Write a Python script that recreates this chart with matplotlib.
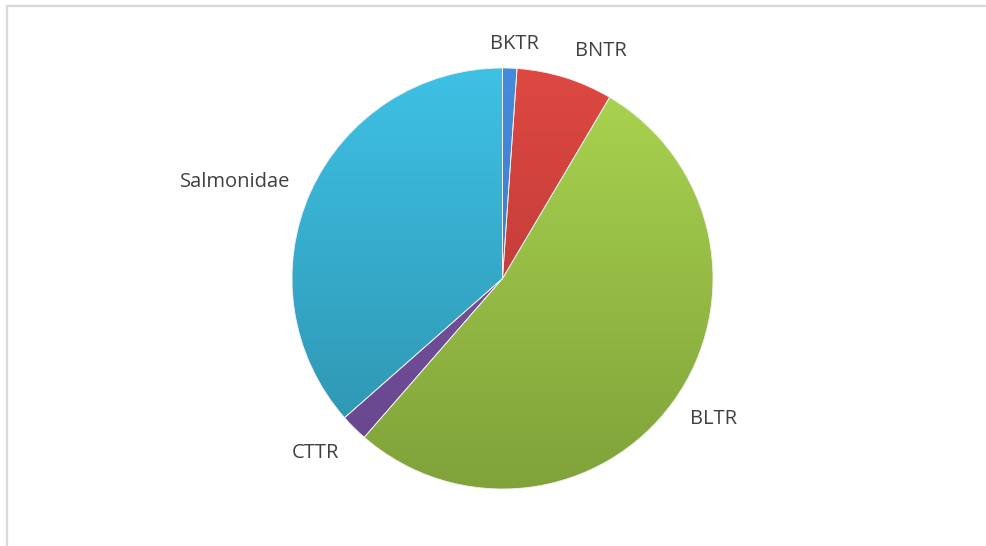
import numpy as np
import matplotlib
matplotlib.use('Agg')
import matplotlib.pyplot as plt
from matplotlib.colors import LinearSegmentedColormap

#data (percent of total)
species = ['BKTR', 'BNTR', 'BLTR', 'CTTR', 'Salmonidae']
shares = [1.1, 7.4, 52.9, 2.1, 36.5]

#gradient colours, top (light) to bottom (dark)
top_colors = ['#458bdc', '#de4842', '#abd550', '#7d58a8', '#3ec1e5']
bottom_colors = ['#3a73b8', '#ad3431', '#80a23a', '#66468c', '#2d90ab']

W, H = 987, 546
cx, cy, R = 502.5, 278.5, 210.5

fig = plt.figure(figsize=(W / 100, H / 100), dpi=100)
ax = fig.add_axes([0, 0, 1, 1])

wedges, texts = ax.pie(shares, labels=species, startangle=90, counterclock=False,
                       radius=1, center=(0, 0), frame=True,
                       wedgeprops=dict(edgecolor='#f0f0f0', linewidth=0.6),
                       textprops=dict(fontsize=14.5, color='#404040', family='Open Sans'))
ax.set_xlim(-cx / R, (W - cx) / R)
ax.set_ylim(-(H - cy) / R, cy / R)
ax.set_aspect('auto')
ax.axis('off')

grad = np.linspace(0, 1, 256).reshape(-1, 1)
for w, c1, c2 in zip(wedges, top_colors, bottom_colors):
    cmap = LinearSegmentedColormap.from_list('g', [c1, c2])
    w.set_facecolor('none')
    im = ax.imshow(grad, cmap=cmap, extent=[-1, 1, -1, 1], origin='upper',
                   aspect='auto', zorder=w.get_zorder() - 0.1)
    im.set_clip_path(w)

#label positions in pixels, as placed in the reference
label_px = [(514, 44), (601, 51), (714, 419), (315, 453), (235, 182)]
for t, (px, py) in zip(texts, label_px):
    t.set_position(((px - cx) / R, (cy - py) / R))
    t.set_ha('center')
    t.set_va('center')

#light frame on top and left edges
fig.add_artist(plt.Line2D([6.5 / W, 1], [1 - 5.5 / H, 1 - 5.5 / H], color='#d9d9d9', lw=1.6))
fig.add_artist(plt.Line2D([6.5 / W, 6.5 / W], [0, 1 - 5.5 / H], color='#d9d9d9', lw=1.6))

fig.savefig('out.png', dpi=100, facecolor='white')
